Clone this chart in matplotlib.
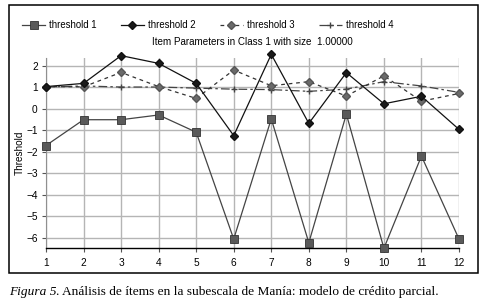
import matplotlib
matplotlib.use("Agg")
import matplotlib.pyplot as plt
from matplotlib.patches import Rectangle

items = [1, 2, 3, 4, 5, 6, 7, 8, 9, 10, 11, 12]
threshold1 = [-1.72, -0.52, -0.52, -0.30, -1.10, -6.07, -0.48, -6.24, -0.26, -6.50, -2.21, -6.07]
threshold2 = [1.02, 1.17, 2.46, 2.10, 1.17, -1.26, 2.52, -0.69, 1.67, 0.22, 0.57, -0.97]
threshold3 = [1.02, 1.01, 1.68, 1.02, 0.47, 1.79, 1.06, 1.25, 0.58, 1.52, 0.34, 0.70]
threshold4 = [1.00, 1.05, 1.00, 1.00, 0.95, 0.90, 0.88, 0.80, 0.90, 1.25, 1.05, 0.75]
series_names = ["threshold 1", "threshold 2", "threshold 3", "threshold 4"]
yticks = [2, 1, 0, -1, -2, -3, -4, -5, -6]
title = "Item Parameters in Class 1 with size  1.00000"
ylabel = "Threshold"
caption_italic = "Figura 5"
caption_rest = ". Análisis de ítems en la subescala de Manía: modelo de crédito parcial."

W, H = 487, 303
fig = plt.figure(figsize=(W / 100, H / 100), dpi=100)
plt.rcParams['font.family'] = ['Liberation Sans', 'DejaVu Sans']

# border box
fig.patches.append(Rectangle((9 / W, 1 - 273 / H), 469 / W, 268 / H,
                             transform=fig.transFigure, fill=False,
                             edgecolor='black', linewidth=1.1))

ax = fig.add_axes([46 / W, 1 - 248.3 / H, 413 / W, (248.3 - 58) / H])
ax.set_xlim(1, 12)
ax.set_ylim(-6.5, 2.35)

l1, = ax.plot(items, threshold1, color='#444444', lw=0.9, marker='s', ms=6,
              mfc='#5a5a5a', mec='#333333', mew=0.6, clip_on=False, zorder=5)
l2, = ax.plot(items, threshold2, color='#111111', lw=0.9, marker='D', ms=4,
              mfc='#1a1a1a', mec='#111111', clip_on=False, zorder=6)
l3, = ax.plot(items, threshold3, color='#333333', lw=0.9, ls=(0, (3, 3)), marker='D', ms=4.5,
              mfc='#6a6a6a', mec='#555555', clip_on=False, zorder=4)
l4, = ax.plot(items, threshold4, color='#444444', lw=0.9, ls=(0, (7, 2.5, 2, 2.5)), marker='+', ms=5,
              mec='#444444', clip_on=False, zorder=3)

ax.set_xticks(items)
ax.set_yticks(yticks)
ax.grid(True, color='#b5b5b5', lw=1.0)
ax.set_axisbelow(True)
for s in ['top', 'right']:
    ax.spines[s].set_visible(False)
ax.spines['left'].set_color('#909090')
ax.spines['bottom'].set_color('black')
ax.spines['bottom'].set_linewidth(1.0)
ax.tick_params(axis='both', labelsize=7.3, length=3, width=0.8, color='#555555', pad=3)
ax.tick_params(axis='x', pad=4)
ax.set_ylabel(ylabel, fontsize=7.2, labelpad=0)
ax.yaxis.set_label_coords(-21 / 413, 0.5)

fig.text(252 / W, 1 - 42 / H, title, ha='center', va='center', fontsize=7.1)

leg = fig.legend([l1, l2, l3, l4], series_names, loc='center left',
                 bbox_to_anchor=(22 / W, 1 - 25 / H), ncol=4, frameon=False,
                 fontsize=6.9, handlelength=2.4, columnspacing=2.55, handletextpad=0.4,
                 borderaxespad=0, borderpad=0)

t1 = fig.text(9 / W, 1 - 292 / H, caption_italic, ha='left', va='center',
              fontsize=9.6, family=['Liberation Serif'], style='italic')
fig.canvas.draw()
bb = t1.get_window_extent()
fig.text(bb.x1 / W, 1 - 292 / H, caption_rest, ha='left', va='center',
         fontsize=9.6, family=['Liberation Serif'])

fig.savefig('out.png', dpi=100)
